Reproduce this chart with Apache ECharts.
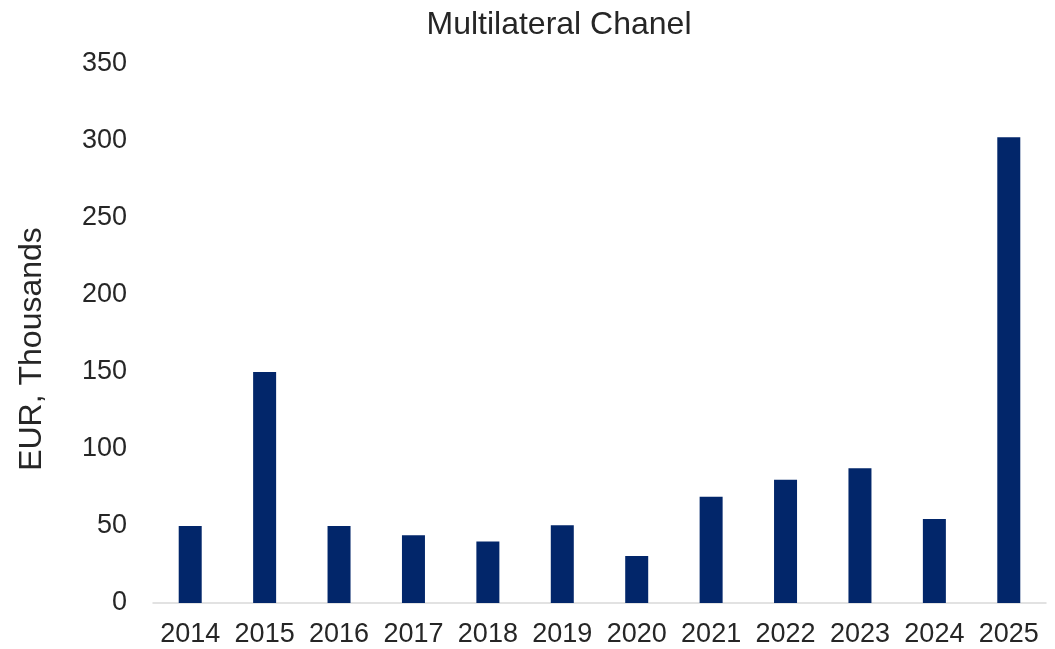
<!DOCTYPE html>
<html>
<head>
<meta charset="utf-8">
<script src="https://cdn.jsdelivr.net/npm/echarts@6/dist/echarts.min.js"></script>
<style>
  html, body { margin: 0; padding: 0; background: #fff; }
  #chart { width: 1055px; height: 649px; }
</style>
</head>
<body>
<div id="chart"></div>
<script>
const years = ["2014", "2015", "2016", "2017", "2018", "2019", "2020", "2021", "2022", "2023", "2024", "2025"];
const values = [50, 150, 50, 44, 40, 50.5, 30.5, 69, 80, 87.5, 54.5, 302.5];
const yTicks = { min: 0, max: 350, interval: 50 };

const chart = echarts.init(document.getElementById("chart"));
const textColor = "#262626";
const font = "Liberation Sans, Arial, sans-serif";

chart.setOption({
  animation: false,
  title: {
    text: "Multilateral Chanel",
    left: 554,
    top: 4,
    textAlign: "center",
    textStyle: { fontFamily: font, fontSize: 32, fontWeight: "normal", color: textColor },
  },
  grid: { left: 153, right: 9, top: 64, bottom: 46 },
  xAxis: {
    type: "category",
    data: years,
    axisLine: { lineStyle: { color: "#d9d9d9", width: 1.5 } },
    axisTick: { show: false },
    axisLabel: { interval: 0, fontFamily: font, fontSize: 27, color: textColor, margin: 18 },
  },
  yAxis: {
    type: "value",
    min: yTicks.min,
    max: yTicks.max,
    interval: yTicks.interval,
    name: "EUR, Thousands",
    nameLocation: "middle",
    nameGap: 105,
    nameTextStyle: { fontFamily: font, fontSize: 32, color: textColor, padding: [0, 31, 0, 0] },
    axisLine: { show: false },
    axisTick: { show: false },
    splitLine: { show: false },
    axisLabel: { fontFamily: font, fontSize: 27, color: textColor, margin: 26 },
  },
  series: [
    {
      type: "bar",
      data: values,
      barWidth: 23,
      itemStyle: { color: "#02266a" },
    },
  ],
});
</script>
</body>
</html>
